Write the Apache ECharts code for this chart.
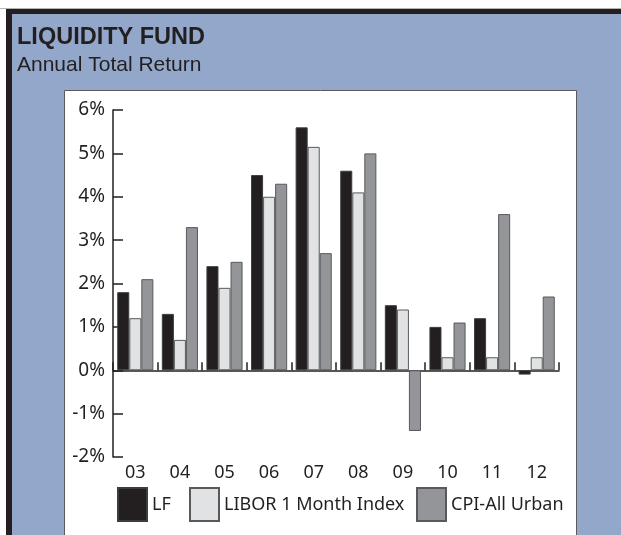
<!DOCTYPE html>
<html>
<head>
<meta charset="utf-8">
<script src="https://cdn.jsdelivr.net/npm/echarts@6/dist/echarts.min.js"></script>
<style>
html,body{margin:0;padding:0;background:#fff;overflow:hidden;}
#c{width:621px;height:535px;}
</style>
</head>
<body>
<div id="c"></div>
<script>
const categories = ['03','04','05','06','07','08','09','10','11','12'];
const lfValues = [1.8, 1.3, 2.4, 4.5, 5.6, 4.6, 1.5, 1.0, 1.2, -0.1];
const liborValues = [1.2, 0.7, 1.9, 4.0, 5.15, 4.1, 1.4, 0.3, 0.3, 0.3];
const cpiValues = [2.1, 3.3, 2.5, 4.3, 2.7, 5.0, -1.4, 1.1, 3.6, 1.7];
const seriesNames = ['LF', 'LIBOR 1 Month Index', 'CPI-All Urban'];
const yMin = -2, yMax = 6, yStep = 1;

const chart = echarts.init(document.getElementById('c'), null, {renderer: 'canvas'});
const axisColor = '#231f20';
const txtFont = 'Noto Sans';
const legendBase = {
  padding: 0, itemWidth: 29, itemHeight: 33, icon: 'rect',
  textStyle: {fontFamily: txtFont, fontSize: 18, color: '#231f20'}
};
chart.setOption({
  backgroundColor: '#ffffff',
  animation: false,
  graphic: [
    {type: 'rect', z: -10, shape: {x: 0, y: 8, width: 621, height: 1}, style: {fill: '#b5b5b5'}},
    {type: 'rect', z: -9, shape: {x: 12, y: 14, width: 609, height: 521}, style: {fill: '#92a7ca'}},
    {type: 'rect', z: -9, shape: {x: 6, y: 9, width: 615, height: 5}, style: {fill: '#231f20'}},
    {type: 'rect', z: -9, shape: {x: 6, y: 9, width: 6, height: 526}, style: {fill: '#231f20'}},
    {type: 'rect', z: -8, shape: {x: 64.5, y: 90.5, width: 512, height: 446}, style: {fill: '#ffffff', stroke: '#5a5a5c', lineWidth: 1}},
    {type: 'text', z: 5, x: 17, y: 38, style: {text: 'LIQUIDITY FUND', font: 'bold 23.5px "Liberation Sans"', fill: '#231f20', verticalAlign: 'middle'}},
    {type: 'text', z: 5, x: 17, y: 65, style: {text: 'Annual Total Return', font: '21px "Liberation Sans"', fill: '#231f20', verticalAlign: 'middle'}}
  ],
  grid: {left: 113, right: 62, top: 110, bottom: 78, containLabel: false},
  legend: [
    Object.assign({data: [seriesNames[0]], left: 117, top: 487}, legendBase),
    Object.assign({data: [seriesNames[1]], left: 189, top: 487}, legendBase),
    Object.assign({data: [seriesNames[2]], left: 416, top: 487}, legendBase)
  ],
  xAxis: [
    {
      type: 'category', data: categories,
      axisLine: {show: true, onZero: true, lineStyle: {color: axisColor, width: 1.5}},
      axisTick: {show: true, inside: true, length: 8, lineStyle: {color: axisColor, width: 1.5}},
      axisLabel: {show: false}, splitLine: {show: false}
    },
    {
      type: 'category', data: categories, position: 'bottom',
      axisLine: {show: false, onZero: false}, axisTick: {show: false},
      axisLabel: {margin: 7, fontFamily: txtFont, fontSize: 18, color: '#231f20'}
    }
  ],
  yAxis: {
    type: 'value', min: yMin, max: yMax, interval: yStep,
    axisLine: {show: true, lineStyle: {color: axisColor, width: 1.5}},
    axisTick: {show: true, inside: true, length: 10, lineStyle: {color: axisColor, width: 1.5}},
    splitLine: {show: false},
    axisLabel: {formatter: '{value}%', margin: 8, fontFamily: txtFont, fontSize: 19, color: '#231f20'}
  },
  series: [
    {name: seriesNames[0], type: 'bar', xAxisIndex: 0, data: lfValues, barGap: 0, barCategoryGap: '19%',
     itemStyle: {color: '#231f20', borderColor: '#3d3d3f', borderWidth: 1}},
    {name: seriesNames[1], type: 'bar', xAxisIndex: 0, data: liborValues, barGap: 0, barCategoryGap: '19%',
     itemStyle: {color: '#e1e2e4', borderColor: '#58595b', borderWidth: 1}},
    {name: seriesNames[2], type: 'bar', xAxisIndex: 0, data: cpiValues, barGap: 0, barCategoryGap: '19%',
     itemStyle: {color: '#939598', borderColor: '#58595b', borderWidth: 1}}
  ]
});
</script>
</body>
</html>
